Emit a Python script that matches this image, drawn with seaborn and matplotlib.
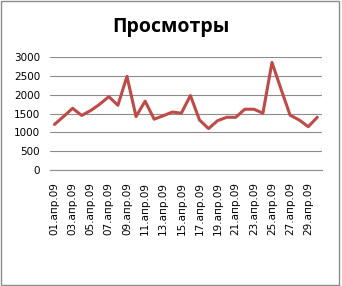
import matplotlib
matplotlib.use("Agg")
import matplotlib.pyplot as plt
import seaborn as sns
import pandas as pd
from matplotlib.patches import Rectangle

days = [f"{d:02d}.апр.09" for d in range(1, 31)]
views = [1210, 1420, 1640, 1450, 1580, 1750, 1950, 1720, 2490, 1420,
         1830, 1350, 1440, 1540, 1510, 1980, 1330, 1100, 1310, 1400,
         1400, 1615, 1615, 1510, 2860, 2150, 1455, 1330, 1150, 1400]
yticks = [0, 500, 1000, 1500, 2000, 2500, 3000]

df = pd.DataFrame({"day": days, "views": views, "pos": range(len(days))})

sns.set_theme(style="white")
plt.rcParams['font.family'] = ['DejaVu Sans']

fig = plt.figure(figsize=(3.42, 2.86), dpi=100)
fig.patches.append(Rectangle((0.002, 0.002), 0.988, 0.994, transform=fig.transFigure,
                             fill=False, edgecolor="#8c8c8c", linewidth=1.0))
ax = fig.add_axes([0.146, 0.406, 0.795, 0.394])
sns.lineplot(data=df, x="pos", y="views", ax=ax, color="#BE4B48", linewidth=2.2)

ax.set_ylim(0, 3000)
ax.set_yticks(yticks)
ax.set_yticklabels([str(v) for v in yticks], fontsize=7.5)
ax.set_xlim(-0.5, len(days) - 0.5)
ax.set_xticks(range(0, len(days), 2))
ax.set_xticklabels(days[::2], rotation=90, fontsize=7.5)
ax.grid(axis="y", color="#8c8c8c", linewidth=0.8)
ax.set_axisbelow(True)
for s in ["top", "right", "left"]:
    ax.spines[s].set_visible(False)
ax.spines["bottom"].set_color("#8c8c8c")
ax.spines["bottom"].set_linewidth(0.8)
ax.tick_params(axis="y", length=0, pad=7, colors="black")
ax.tick_params(axis="x", length=0, pad=9, colors="black")
ax.set_xlabel("")
ax.set_ylabel("")
fig.text(0.5, 0.905, "Просмотры", ha="center", va="center", fontsize=14,
         fontweight="bold", color="black", family=["Open Sans", "DejaVu Sans"])

fig.savefig("out.png", dpi=100)
